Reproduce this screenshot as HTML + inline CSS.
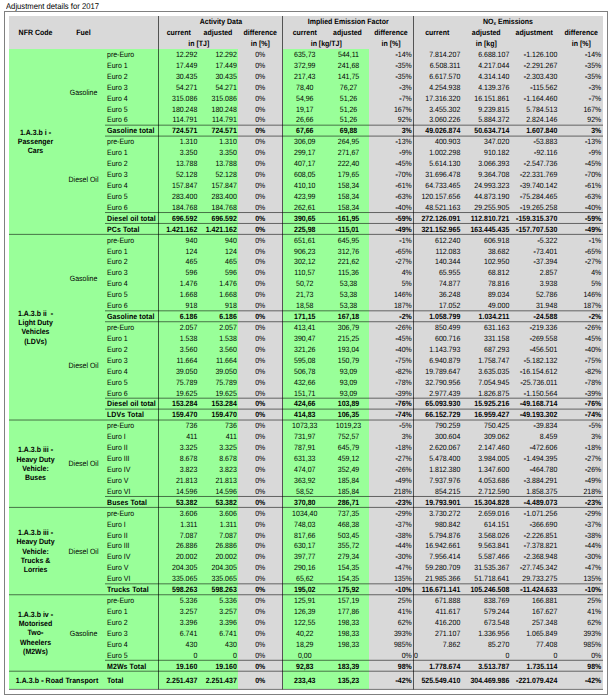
<!DOCTYPE html>
<html><head><meta charset="utf-8">
<style>
html,body{margin:0;padding:0;background:#fff;width:612px;height:700px;overflow:hidden;position:relative}
.r{position:absolute}
.ov{position:absolute;left:0;top:0}
.t{position:absolute;font-family:"Liberation Sans",sans-serif;font-size:7.7px;line-height:10px;height:10px;white-space:nowrap;color:#000;text-rendering:geometricPrecision;transform:scaleX(0.91)}
.b{font-weight:bold}
.m{-webkit-text-stroke:0.25px #000}
sub{font-size:5px;vertical-align:baseline;position:relative;top:0.8px}
.title{position:absolute;left:6px;top:0px;font-family:"Liberation Sans",sans-serif;font-size:8.3px;line-height:12px;color:#000;white-space:nowrap;text-rendering:geometricPrecision;transform:scaleX(0.925);transform-origin:0 0}
.frame{position:absolute;left:4px;top:11px;width:602px;height:682px;border:1px solid #808080}
</style></head><body>
<div class="title">Adjustment details for 2017</div>
<div class="frame"></div>
<div class="r" style="left:9.00px;top:16.00px;width:594.00px;height:32.50px;background:#d9d9d9"></div>
<div class="r" style="left:9.00px;top:48.50px;width:229.00px;height:640.90px;background:#99ff99"></div>
<div class="r" style="left:238.00px;top:48.50px;width:44.50px;height:640.90px;background:#d9d9d9"></div>
<div class="r" style="left:282.50px;top:48.50px;width:86.50px;height:640.90px;background:#99ff99"></div>
<div class="r" style="left:369.00px;top:48.50px;width:234.00px;height:640.90px;background:#d9d9d9"></div>
<div class="t" style="left:107.00px;width:53.50px;top:50px;text-align:left;transform-origin:0 0">pre-Euro</div>
<div class="t" style="left:158.50px;width:38.30px;top:50px;text-align:right;transform-origin:100% 0">12.292</div>
<div class="t" style="left:198.00px;width:38.80px;top:50px;text-align:right;transform-origin:100% 0">12.292</div>
<div class="t" style="left:238.00px;width:44.50px;top:50px;text-align:center;transform-origin:50% 0">0%</div>
<div class="t" style="left:282.50px;width:43.50px;top:50px;text-align:center;transform-origin:50% 0">635,73</div>
<div class="t" style="left:326.70px;width:43.00px;top:50px;text-align:center;transform-origin:50% 0">544,11</div>
<div class="t" style="left:369.00px;width:42.80px;top:50px;text-align:right;transform-origin:100% 0"><span class="m">-</span>14%</div>
<div class="t" style="left:413.00px;width:47.30px;top:50px;text-align:right;transform-origin:100% 0">7.814.207</div>
<div class="t" style="left:461.50px;width:47.30px;top:50px;text-align:right;transform-origin:100% 0">6.688.107</div>
<div class="t" style="left:510.00px;width:47.30px;top:50px;text-align:right;transform-origin:100% 0"><span class="m">-</span>1.126.100</div>
<div class="t" style="left:558.50px;width:42.30px;top:50px;text-align:right;transform-origin:100% 0"><span class="m">-</span>14%</div>
<div class="t" style="left:107.00px;width:53.50px;top:61px;text-align:left;transform-origin:0 0">Euro 1</div>
<div class="t" style="left:158.50px;width:38.30px;top:61px;text-align:right;transform-origin:100% 0">17.449</div>
<div class="t" style="left:198.00px;width:38.80px;top:61px;text-align:right;transform-origin:100% 0">17.449</div>
<div class="t" style="left:238.00px;width:44.50px;top:61px;text-align:center;transform-origin:50% 0">0%</div>
<div class="t" style="left:282.50px;width:43.50px;top:61px;text-align:center;transform-origin:50% 0">372,99</div>
<div class="t" style="left:326.70px;width:43.00px;top:61px;text-align:center;transform-origin:50% 0">241,68</div>
<div class="t" style="left:369.00px;width:42.80px;top:61px;text-align:right;transform-origin:100% 0"><span class="m">-</span>35%</div>
<div class="t" style="left:413.00px;width:47.30px;top:61px;text-align:right;transform-origin:100% 0">6.508.311</div>
<div class="t" style="left:461.50px;width:47.30px;top:61px;text-align:right;transform-origin:100% 0">4.217.044</div>
<div class="t" style="left:510.00px;width:47.30px;top:61px;text-align:right;transform-origin:100% 0"><span class="m">-</span>2.291.267</div>
<div class="t" style="left:558.50px;width:42.30px;top:61px;text-align:right;transform-origin:100% 0"><span class="m">-</span>35%</div>
<div class="t" style="left:107.00px;width:53.50px;top:72px;text-align:left;transform-origin:0 0">Euro 2</div>
<div class="t" style="left:158.50px;width:38.30px;top:72px;text-align:right;transform-origin:100% 0">30.435</div>
<div class="t" style="left:198.00px;width:38.80px;top:72px;text-align:right;transform-origin:100% 0">30.435</div>
<div class="t" style="left:238.00px;width:44.50px;top:72px;text-align:center;transform-origin:50% 0">0%</div>
<div class="t" style="left:282.50px;width:43.50px;top:72px;text-align:center;transform-origin:50% 0">217,43</div>
<div class="t" style="left:326.70px;width:43.00px;top:72px;text-align:center;transform-origin:50% 0">141,75</div>
<div class="t" style="left:369.00px;width:42.80px;top:72px;text-align:right;transform-origin:100% 0"><span class="m">-</span>35%</div>
<div class="t" style="left:413.00px;width:47.30px;top:72px;text-align:right;transform-origin:100% 0">6.617.570</div>
<div class="t" style="left:461.50px;width:47.30px;top:72px;text-align:right;transform-origin:100% 0">4.314.140</div>
<div class="t" style="left:510.00px;width:47.30px;top:72px;text-align:right;transform-origin:100% 0"><span class="m">-</span>2.303.430</div>
<div class="t" style="left:558.50px;width:42.30px;top:72px;text-align:right;transform-origin:100% 0"><span class="m">-</span>35%</div>
<div class="t" style="left:107.00px;width:53.50px;top:83px;text-align:left;transform-origin:0 0">Euro 3</div>
<div class="t" style="left:158.50px;width:38.30px;top:83px;text-align:right;transform-origin:100% 0">54.271</div>
<div class="t" style="left:198.00px;width:38.80px;top:83px;text-align:right;transform-origin:100% 0">54.271</div>
<div class="t" style="left:238.00px;width:44.50px;top:83px;text-align:center;transform-origin:50% 0">0%</div>
<div class="t" style="left:282.50px;width:43.50px;top:83px;text-align:center;transform-origin:50% 0">78,40</div>
<div class="t" style="left:326.70px;width:43.00px;top:83px;text-align:center;transform-origin:50% 0">76,27</div>
<div class="t" style="left:369.00px;width:42.80px;top:83px;text-align:right;transform-origin:100% 0"><span class="m">-</span>3%</div>
<div class="t" style="left:413.00px;width:47.30px;top:83px;text-align:right;transform-origin:100% 0">4.254.938</div>
<div class="t" style="left:461.50px;width:47.30px;top:83px;text-align:right;transform-origin:100% 0">4.139.376</div>
<div class="t" style="left:510.00px;width:47.30px;top:83px;text-align:right;transform-origin:100% 0"><span class="m">-</span>115.562</div>
<div class="t" style="left:558.50px;width:42.30px;top:83px;text-align:right;transform-origin:100% 0"><span class="m">-</span>3%</div>
<div class="t" style="left:107.00px;width:53.50px;top:94px;text-align:left;transform-origin:0 0">Euro 4</div>
<div class="t" style="left:158.50px;width:38.30px;top:94px;text-align:right;transform-origin:100% 0">315.086</div>
<div class="t" style="left:198.00px;width:38.80px;top:94px;text-align:right;transform-origin:100% 0">315.086</div>
<div class="t" style="left:238.00px;width:44.50px;top:94px;text-align:center;transform-origin:50% 0">0%</div>
<div class="t" style="left:282.50px;width:43.50px;top:94px;text-align:center;transform-origin:50% 0">54,96</div>
<div class="t" style="left:326.70px;width:43.00px;top:94px;text-align:center;transform-origin:50% 0">51,26</div>
<div class="t" style="left:369.00px;width:42.80px;top:94px;text-align:right;transform-origin:100% 0"><span class="m">-</span>7%</div>
<div class="t" style="left:413.00px;width:47.30px;top:94px;text-align:right;transform-origin:100% 0">17.316.320</div>
<div class="t" style="left:461.50px;width:47.30px;top:94px;text-align:right;transform-origin:100% 0">16.151.861</div>
<div class="t" style="left:510.00px;width:47.30px;top:94px;text-align:right;transform-origin:100% 0"><span class="m">-</span>1.164.460</div>
<div class="t" style="left:558.50px;width:42.30px;top:94px;text-align:right;transform-origin:100% 0"><span class="m">-</span>7%</div>
<div class="t" style="left:107.00px;width:53.50px;top:105px;text-align:left;transform-origin:0 0">Euro 5</div>
<div class="t" style="left:158.50px;width:38.30px;top:105px;text-align:right;transform-origin:100% 0">180.248</div>
<div class="t" style="left:198.00px;width:38.80px;top:105px;text-align:right;transform-origin:100% 0">180.248</div>
<div class="t" style="left:238.00px;width:44.50px;top:105px;text-align:center;transform-origin:50% 0">0%</div>
<div class="t" style="left:282.50px;width:43.50px;top:105px;text-align:center;transform-origin:50% 0">19,17</div>
<div class="t" style="left:326.70px;width:43.00px;top:105px;text-align:center;transform-origin:50% 0">51,26</div>
<div class="t" style="left:369.00px;width:42.80px;top:105px;text-align:right;transform-origin:100% 0">167%</div>
<div class="t" style="left:413.00px;width:47.30px;top:105px;text-align:right;transform-origin:100% 0">3.455.302</div>
<div class="t" style="left:461.50px;width:47.30px;top:105px;text-align:right;transform-origin:100% 0">9.239.815</div>
<div class="t" style="left:510.00px;width:47.30px;top:105px;text-align:right;transform-origin:100% 0">5.784.513</div>
<div class="t" style="left:558.50px;width:42.30px;top:105px;text-align:right;transform-origin:100% 0">167%</div>
<div class="t" style="left:107.00px;width:53.50px;top:115px;text-align:left;transform-origin:0 0">Euro 6</div>
<div class="t" style="left:158.50px;width:38.30px;top:115px;text-align:right;transform-origin:100% 0">114.791</div>
<div class="t" style="left:198.00px;width:38.80px;top:115px;text-align:right;transform-origin:100% 0">114.791</div>
<div class="t" style="left:238.00px;width:44.50px;top:115px;text-align:center;transform-origin:50% 0">0%</div>
<div class="t" style="left:282.50px;width:43.50px;top:115px;text-align:center;transform-origin:50% 0">26,66</div>
<div class="t" style="left:326.70px;width:43.00px;top:115px;text-align:center;transform-origin:50% 0">51,26</div>
<div class="t" style="left:369.00px;width:42.80px;top:115px;text-align:right;transform-origin:100% 0">92%</div>
<div class="t" style="left:413.00px;width:47.30px;top:115px;text-align:right;transform-origin:100% 0">3.060.226</div>
<div class="t" style="left:461.50px;width:47.30px;top:115px;text-align:right;transform-origin:100% 0">5.884.372</div>
<div class="t" style="left:510.00px;width:47.30px;top:115px;text-align:right;transform-origin:100% 0">2.824.146</div>
<div class="t" style="left:558.50px;width:42.30px;top:115px;text-align:right;transform-origin:100% 0">92%</div>
<div class="t b" style="left:107.00px;width:53.50px;top:126px;text-align:left;transform-origin:0 0;letter-spacing:0.1px">Gasoline total</div>
<div class="t b" style="left:158.50px;width:38.30px;top:126px;text-align:right;transform-origin:100% 0">724.571</div>
<div class="t b" style="left:198.00px;width:38.80px;top:126px;text-align:right;transform-origin:100% 0">724.571</div>
<div class="t b" style="left:238.00px;width:44.50px;top:126px;text-align:center;transform-origin:50% 0">0%</div>
<div class="t b" style="left:282.50px;width:43.50px;top:126px;text-align:center;transform-origin:50% 0">67,66</div>
<div class="t b" style="left:326.70px;width:43.00px;top:126px;text-align:center;transform-origin:50% 0">69,88</div>
<div class="t b" style="left:369.00px;width:42.80px;top:126px;text-align:right;transform-origin:100% 0">3%</div>
<div class="t b" style="left:413.00px;width:47.30px;top:126px;text-align:right;transform-origin:100% 0">49.026.874</div>
<div class="t b" style="left:461.50px;width:47.30px;top:126px;text-align:right;transform-origin:100% 0">50.634.714</div>
<div class="t b" style="left:510.00px;width:47.30px;top:126px;text-align:right;transform-origin:100% 0">1.607.840</div>
<div class="t b" style="left:558.50px;width:42.30px;top:126px;text-align:right;transform-origin:100% 0">3%</div>
<div class="t" style="left:107.00px;width:53.50px;top:137px;text-align:left;transform-origin:0 0">pre-Euro</div>
<div class="t" style="left:158.50px;width:38.30px;top:137px;text-align:right;transform-origin:100% 0">1.310</div>
<div class="t" style="left:198.00px;width:38.80px;top:137px;text-align:right;transform-origin:100% 0">1.310</div>
<div class="t" style="left:238.00px;width:44.50px;top:137px;text-align:center;transform-origin:50% 0">0%</div>
<div class="t" style="left:282.50px;width:43.50px;top:137px;text-align:center;transform-origin:50% 0">306,09</div>
<div class="t" style="left:326.70px;width:43.00px;top:137px;text-align:center;transform-origin:50% 0">264,95</div>
<div class="t" style="left:369.00px;width:42.80px;top:137px;text-align:right;transform-origin:100% 0"><span class="m">-</span>13%</div>
<div class="t" style="left:413.00px;width:47.30px;top:137px;text-align:right;transform-origin:100% 0">400.903</div>
<div class="t" style="left:461.50px;width:47.30px;top:137px;text-align:right;transform-origin:100% 0">347.020</div>
<div class="t" style="left:510.00px;width:47.30px;top:137px;text-align:right;transform-origin:100% 0"><span class="m">-</span>53.883</div>
<div class="t" style="left:558.50px;width:42.30px;top:137px;text-align:right;transform-origin:100% 0"><span class="m">-</span>13%</div>
<div class="t" style="left:107.00px;width:53.50px;top:148px;text-align:left;transform-origin:0 0">Euro 1</div>
<div class="t" style="left:158.50px;width:38.30px;top:148px;text-align:right;transform-origin:100% 0">3.350</div>
<div class="t" style="left:198.00px;width:38.80px;top:148px;text-align:right;transform-origin:100% 0">3.350</div>
<div class="t" style="left:238.00px;width:44.50px;top:148px;text-align:center;transform-origin:50% 0">0%</div>
<div class="t" style="left:282.50px;width:43.50px;top:148px;text-align:center;transform-origin:50% 0">299,17</div>
<div class="t" style="left:326.70px;width:43.00px;top:148px;text-align:center;transform-origin:50% 0">271,67</div>
<div class="t" style="left:369.00px;width:42.80px;top:148px;text-align:right;transform-origin:100% 0"><span class="m">-</span>9%</div>
<div class="t" style="left:413.00px;width:47.30px;top:148px;text-align:right;transform-origin:100% 0">1.002.298</div>
<div class="t" style="left:461.50px;width:47.30px;top:148px;text-align:right;transform-origin:100% 0">910.182</div>
<div class="t" style="left:510.00px;width:47.30px;top:148px;text-align:right;transform-origin:100% 0"><span class="m">-</span>92.116</div>
<div class="t" style="left:558.50px;width:42.30px;top:148px;text-align:right;transform-origin:100% 0"><span class="m">-</span>9%</div>
<div class="t" style="left:107.00px;width:53.50px;top:159px;text-align:left;transform-origin:0 0">Euro 2</div>
<div class="t" style="left:158.50px;width:38.30px;top:159px;text-align:right;transform-origin:100% 0">13.788</div>
<div class="t" style="left:198.00px;width:38.80px;top:159px;text-align:right;transform-origin:100% 0">13.788</div>
<div class="t" style="left:238.00px;width:44.50px;top:159px;text-align:center;transform-origin:50% 0">0%</div>
<div class="t" style="left:282.50px;width:43.50px;top:159px;text-align:center;transform-origin:50% 0">407,17</div>
<div class="t" style="left:326.70px;width:43.00px;top:159px;text-align:center;transform-origin:50% 0">222,40</div>
<div class="t" style="left:369.00px;width:42.80px;top:159px;text-align:right;transform-origin:100% 0"><span class="m">-</span>45%</div>
<div class="t" style="left:413.00px;width:47.30px;top:159px;text-align:right;transform-origin:100% 0">5.614.130</div>
<div class="t" style="left:461.50px;width:47.30px;top:159px;text-align:right;transform-origin:100% 0">3.066.393</div>
<div class="t" style="left:510.00px;width:47.30px;top:159px;text-align:right;transform-origin:100% 0"><span class="m">-</span>2.547.736</div>
<div class="t" style="left:558.50px;width:42.30px;top:159px;text-align:right;transform-origin:100% 0"><span class="m">-</span>45%</div>
<div class="t" style="left:107.00px;width:53.50px;top:170px;text-align:left;transform-origin:0 0">Euro 3</div>
<div class="t" style="left:158.50px;width:38.30px;top:170px;text-align:right;transform-origin:100% 0">52.128</div>
<div class="t" style="left:198.00px;width:38.80px;top:170px;text-align:right;transform-origin:100% 0">52.128</div>
<div class="t" style="left:238.00px;width:44.50px;top:170px;text-align:center;transform-origin:50% 0">0%</div>
<div class="t" style="left:282.50px;width:43.50px;top:170px;text-align:center;transform-origin:50% 0">608,05</div>
<div class="t" style="left:326.70px;width:43.00px;top:170px;text-align:center;transform-origin:50% 0">179,65</div>
<div class="t" style="left:369.00px;width:42.80px;top:170px;text-align:right;transform-origin:100% 0"><span class="m">-</span>70%</div>
<div class="t" style="left:413.00px;width:47.30px;top:170px;text-align:right;transform-origin:100% 0">31.696.478</div>
<div class="t" style="left:461.50px;width:47.30px;top:170px;text-align:right;transform-origin:100% 0">9.364.708</div>
<div class="t" style="left:510.00px;width:47.30px;top:170px;text-align:right;transform-origin:100% 0"><span class="m">-</span>22.331.769</div>
<div class="t" style="left:558.50px;width:42.30px;top:170px;text-align:right;transform-origin:100% 0"><span class="m">-</span>70%</div>
<div class="t" style="left:107.00px;width:53.50px;top:181px;text-align:left;transform-origin:0 0">Euro 4</div>
<div class="t" style="left:158.50px;width:38.30px;top:181px;text-align:right;transform-origin:100% 0">157.847</div>
<div class="t" style="left:198.00px;width:38.80px;top:181px;text-align:right;transform-origin:100% 0">157.847</div>
<div class="t" style="left:238.00px;width:44.50px;top:181px;text-align:center;transform-origin:50% 0">0%</div>
<div class="t" style="left:282.50px;width:43.50px;top:181px;text-align:center;transform-origin:50% 0">410,10</div>
<div class="t" style="left:326.70px;width:43.00px;top:181px;text-align:center;transform-origin:50% 0">158,34</div>
<div class="t" style="left:369.00px;width:42.80px;top:181px;text-align:right;transform-origin:100% 0"><span class="m">-</span>61%</div>
<div class="t" style="left:413.00px;width:47.30px;top:181px;text-align:right;transform-origin:100% 0">64.733.465</div>
<div class="t" style="left:461.50px;width:47.30px;top:181px;text-align:right;transform-origin:100% 0">24.993.323</div>
<div class="t" style="left:510.00px;width:47.30px;top:181px;text-align:right;transform-origin:100% 0"><span class="m">-</span>39.740.142</div>
<div class="t" style="left:558.50px;width:42.30px;top:181px;text-align:right;transform-origin:100% 0"><span class="m">-</span>61%</div>
<div class="t" style="left:107.00px;width:53.50px;top:192px;text-align:left;transform-origin:0 0">Euro 5</div>
<div class="t" style="left:158.50px;width:38.30px;top:192px;text-align:right;transform-origin:100% 0">283.400</div>
<div class="t" style="left:198.00px;width:38.80px;top:192px;text-align:right;transform-origin:100% 0">283.400</div>
<div class="t" style="left:238.00px;width:44.50px;top:192px;text-align:center;transform-origin:50% 0">0%</div>
<div class="t" style="left:282.50px;width:43.50px;top:192px;text-align:center;transform-origin:50% 0">423,99</div>
<div class="t" style="left:326.70px;width:43.00px;top:192px;text-align:center;transform-origin:50% 0">158,34</div>
<div class="t" style="left:369.00px;width:42.80px;top:192px;text-align:right;transform-origin:100% 0"><span class="m">-</span>63%</div>
<div class="t" style="left:413.00px;width:47.30px;top:192px;text-align:right;transform-origin:100% 0">120.157.656</div>
<div class="t" style="left:461.50px;width:47.30px;top:192px;text-align:right;transform-origin:100% 0">44.873.190</div>
<div class="t" style="left:510.00px;width:47.30px;top:192px;text-align:right;transform-origin:100% 0"><span class="m">-</span>75.284.465</div>
<div class="t" style="left:558.50px;width:42.30px;top:192px;text-align:right;transform-origin:100% 0"><span class="m">-</span>63%</div>
<div class="t" style="left:107.00px;width:53.50px;top:203px;text-align:left;transform-origin:0 0">Euro 6</div>
<div class="t" style="left:158.50px;width:38.30px;top:203px;text-align:right;transform-origin:100% 0">184.768</div>
<div class="t" style="left:198.00px;width:38.80px;top:203px;text-align:right;transform-origin:100% 0">184.768</div>
<div class="t" style="left:238.00px;width:44.50px;top:203px;text-align:center;transform-origin:50% 0">0%</div>
<div class="t" style="left:282.50px;width:43.50px;top:203px;text-align:center;transform-origin:50% 0">262,61</div>
<div class="t" style="left:326.70px;width:43.00px;top:203px;text-align:center;transform-origin:50% 0">158,34</div>
<div class="t" style="left:369.00px;width:42.80px;top:203px;text-align:right;transform-origin:100% 0"><span class="m">-</span>40%</div>
<div class="t" style="left:413.00px;width:47.30px;top:203px;text-align:right;transform-origin:100% 0">48.521.163</div>
<div class="t" style="left:461.50px;width:47.30px;top:203px;text-align:right;transform-origin:100% 0">29.255.905</div>
<div class="t" style="left:510.00px;width:47.30px;top:203px;text-align:right;transform-origin:100% 0"><span class="m">-</span>19.265.258</div>
<div class="t" style="left:558.50px;width:42.30px;top:203px;text-align:right;transform-origin:100% 0"><span class="m">-</span>40%</div>
<div class="t b" style="left:107.00px;width:53.50px;top:214px;text-align:left;transform-origin:0 0;letter-spacing:0.1px">Diesel oil total</div>
<div class="t b" style="left:158.50px;width:38.30px;top:214px;text-align:right;transform-origin:100% 0">696.592</div>
<div class="t b" style="left:198.00px;width:38.80px;top:214px;text-align:right;transform-origin:100% 0">696.592</div>
<div class="t b" style="left:238.00px;width:44.50px;top:214px;text-align:center;transform-origin:50% 0">0%</div>
<div class="t b" style="left:282.50px;width:43.50px;top:214px;text-align:center;transform-origin:50% 0">390,65</div>
<div class="t b" style="left:326.70px;width:43.00px;top:214px;text-align:center;transform-origin:50% 0">161,95</div>
<div class="t b" style="left:369.00px;width:42.80px;top:214px;text-align:right;transform-origin:100% 0"><span class="m">-</span>59%</div>
<div class="t b" style="left:413.00px;width:47.30px;top:214px;text-align:right;transform-origin:100% 0">272.126.091</div>
<div class="t b" style="left:461.50px;width:47.30px;top:214px;text-align:right;transform-origin:100% 0">112.810.721</div>
<div class="t b" style="left:510.00px;width:47.30px;top:214px;text-align:right;transform-origin:100% 0"><span class="m">-</span>159.315.370</div>
<div class="t b" style="left:558.50px;width:42.30px;top:214px;text-align:right;transform-origin:100% 0"><span class="m">-</span>59%</div>
<div class="t b" style="left:107.00px;width:53.50px;top:225px;text-align:left;transform-origin:0 0;letter-spacing:0.1px">PCs Total</div>
<div class="t b" style="left:158.50px;width:38.30px;top:225px;text-align:right;transform-origin:100% 0">1.421.162</div>
<div class="t b" style="left:198.00px;width:38.80px;top:225px;text-align:right;transform-origin:100% 0">1.421.162</div>
<div class="t b" style="left:238.00px;width:44.50px;top:225px;text-align:center;transform-origin:50% 0">0%</div>
<div class="t b" style="left:282.50px;width:43.50px;top:225px;text-align:center;transform-origin:50% 0">225,98</div>
<div class="t b" style="left:326.70px;width:43.00px;top:225px;text-align:center;transform-origin:50% 0">115,01</div>
<div class="t b" style="left:369.00px;width:42.80px;top:225px;text-align:right;transform-origin:100% 0"><span class="m">-</span>49%</div>
<div class="t b" style="left:413.00px;width:47.30px;top:225px;text-align:right;transform-origin:100% 0">321.152.965</div>
<div class="t b" style="left:461.50px;width:47.30px;top:225px;text-align:right;transform-origin:100% 0">163.445.435</div>
<div class="t b" style="left:510.00px;width:47.30px;top:225px;text-align:right;transform-origin:100% 0"><span class="m">-</span>157.707.530</div>
<div class="t b" style="left:558.50px;width:42.30px;top:225px;text-align:right;transform-origin:100% 0"><span class="m">-</span>49%</div>
<div class="t" style="left:107.00px;width:53.50px;top:236px;text-align:left;transform-origin:0 0">pre-Euro</div>
<div class="t" style="left:158.50px;width:38.30px;top:236px;text-align:right;transform-origin:100% 0">940</div>
<div class="t" style="left:198.00px;width:38.80px;top:236px;text-align:right;transform-origin:100% 0">940</div>
<div class="t" style="left:238.00px;width:44.50px;top:236px;text-align:center;transform-origin:50% 0">0%</div>
<div class="t" style="left:282.50px;width:43.50px;top:236px;text-align:center;transform-origin:50% 0">651,61</div>
<div class="t" style="left:326.70px;width:43.00px;top:236px;text-align:center;transform-origin:50% 0">645,95</div>
<div class="t" style="left:369.00px;width:42.80px;top:236px;text-align:right;transform-origin:100% 0"><span class="m">-</span>1%</div>
<div class="t" style="left:413.00px;width:47.30px;top:236px;text-align:right;transform-origin:100% 0">612.240</div>
<div class="t" style="left:461.50px;width:47.30px;top:236px;text-align:right;transform-origin:100% 0">606.918</div>
<div class="t" style="left:510.00px;width:47.30px;top:236px;text-align:right;transform-origin:100% 0"><span class="m">-</span>5.322</div>
<div class="t" style="left:558.50px;width:42.30px;top:236px;text-align:right;transform-origin:100% 0"><span class="m">-</span>1%</div>
<div class="t" style="left:107.00px;width:53.50px;top:247px;text-align:left;transform-origin:0 0">Euro 1</div>
<div class="t" style="left:158.50px;width:38.30px;top:247px;text-align:right;transform-origin:100% 0">124</div>
<div class="t" style="left:198.00px;width:38.80px;top:247px;text-align:right;transform-origin:100% 0">124</div>
<div class="t" style="left:238.00px;width:44.50px;top:247px;text-align:center;transform-origin:50% 0">0%</div>
<div class="t" style="left:282.50px;width:43.50px;top:247px;text-align:center;transform-origin:50% 0">906,23</div>
<div class="t" style="left:326.70px;width:43.00px;top:247px;text-align:center;transform-origin:50% 0">312,76</div>
<div class="t" style="left:369.00px;width:42.80px;top:247px;text-align:right;transform-origin:100% 0"><span class="m">-</span>65%</div>
<div class="t" style="left:413.00px;width:47.30px;top:247px;text-align:right;transform-origin:100% 0">112.083</div>
<div class="t" style="left:461.50px;width:47.30px;top:247px;text-align:right;transform-origin:100% 0">38.682</div>
<div class="t" style="left:510.00px;width:47.30px;top:247px;text-align:right;transform-origin:100% 0"><span class="m">-</span>73.401</div>
<div class="t" style="left:558.50px;width:42.30px;top:247px;text-align:right;transform-origin:100% 0"><span class="m">-</span>65%</div>
<div class="t" style="left:107.00px;width:53.50px;top:257px;text-align:left;transform-origin:0 0">Euro 2</div>
<div class="t" style="left:158.50px;width:38.30px;top:257px;text-align:right;transform-origin:100% 0">465</div>
<div class="t" style="left:198.00px;width:38.80px;top:257px;text-align:right;transform-origin:100% 0">465</div>
<div class="t" style="left:238.00px;width:44.50px;top:257px;text-align:center;transform-origin:50% 0">0%</div>
<div class="t" style="left:282.50px;width:43.50px;top:257px;text-align:center;transform-origin:50% 0">302,12</div>
<div class="t" style="left:326.70px;width:43.00px;top:257px;text-align:center;transform-origin:50% 0">221,62</div>
<div class="t" style="left:369.00px;width:42.80px;top:257px;text-align:right;transform-origin:100% 0"><span class="m">-</span>27%</div>
<div class="t" style="left:413.00px;width:47.30px;top:257px;text-align:right;transform-origin:100% 0">140.344</div>
<div class="t" style="left:461.50px;width:47.30px;top:257px;text-align:right;transform-origin:100% 0">102.950</div>
<div class="t" style="left:510.00px;width:47.30px;top:257px;text-align:right;transform-origin:100% 0"><span class="m">-</span>37.394</div>
<div class="t" style="left:558.50px;width:42.30px;top:257px;text-align:right;transform-origin:100% 0"><span class="m">-</span>27%</div>
<div class="t" style="left:107.00px;width:53.50px;top:268px;text-align:left;transform-origin:0 0">Euro 3</div>
<div class="t" style="left:158.50px;width:38.30px;top:268px;text-align:right;transform-origin:100% 0">596</div>
<div class="t" style="left:198.00px;width:38.80px;top:268px;text-align:right;transform-origin:100% 0">596</div>
<div class="t" style="left:238.00px;width:44.50px;top:268px;text-align:center;transform-origin:50% 0">0%</div>
<div class="t" style="left:282.50px;width:43.50px;top:268px;text-align:center;transform-origin:50% 0">110,57</div>
<div class="t" style="left:326.70px;width:43.00px;top:268px;text-align:center;transform-origin:50% 0">115,36</div>
<div class="t" style="left:369.00px;width:42.80px;top:268px;text-align:right;transform-origin:100% 0">4%</div>
<div class="t" style="left:413.00px;width:47.30px;top:268px;text-align:right;transform-origin:100% 0">65.955</div>
<div class="t" style="left:461.50px;width:47.30px;top:268px;text-align:right;transform-origin:100% 0">68.812</div>
<div class="t" style="left:510.00px;width:47.30px;top:268px;text-align:right;transform-origin:100% 0">2.857</div>
<div class="t" style="left:558.50px;width:42.30px;top:268px;text-align:right;transform-origin:100% 0">4%</div>
<div class="t" style="left:107.00px;width:53.50px;top:279px;text-align:left;transform-origin:0 0">Euro 4</div>
<div class="t" style="left:158.50px;width:38.30px;top:279px;text-align:right;transform-origin:100% 0">1.476</div>
<div class="t" style="left:198.00px;width:38.80px;top:279px;text-align:right;transform-origin:100% 0">1.476</div>
<div class="t" style="left:238.00px;width:44.50px;top:279px;text-align:center;transform-origin:50% 0">0%</div>
<div class="t" style="left:282.50px;width:43.50px;top:279px;text-align:center;transform-origin:50% 0">50,72</div>
<div class="t" style="left:326.70px;width:43.00px;top:279px;text-align:center;transform-origin:50% 0">53,38</div>
<div class="t" style="left:369.00px;width:42.80px;top:279px;text-align:right;transform-origin:100% 0">5%</div>
<div class="t" style="left:413.00px;width:47.30px;top:279px;text-align:right;transform-origin:100% 0">74.877</div>
<div class="t" style="left:461.50px;width:47.30px;top:279px;text-align:right;transform-origin:100% 0">78.816</div>
<div class="t" style="left:510.00px;width:47.30px;top:279px;text-align:right;transform-origin:100% 0">3.938</div>
<div class="t" style="left:558.50px;width:42.30px;top:279px;text-align:right;transform-origin:100% 0">5%</div>
<div class="t" style="left:107.00px;width:53.50px;top:290px;text-align:left;transform-origin:0 0">Euro 5</div>
<div class="t" style="left:158.50px;width:38.30px;top:290px;text-align:right;transform-origin:100% 0">1.668</div>
<div class="t" style="left:198.00px;width:38.80px;top:290px;text-align:right;transform-origin:100% 0">1.668</div>
<div class="t" style="left:238.00px;width:44.50px;top:290px;text-align:center;transform-origin:50% 0">0%</div>
<div class="t" style="left:282.50px;width:43.50px;top:290px;text-align:center;transform-origin:50% 0">21,73</div>
<div class="t" style="left:326.70px;width:43.00px;top:290px;text-align:center;transform-origin:50% 0">53,38</div>
<div class="t" style="left:369.00px;width:42.80px;top:290px;text-align:right;transform-origin:100% 0">146%</div>
<div class="t" style="left:413.00px;width:47.30px;top:290px;text-align:right;transform-origin:100% 0">36.248</div>
<div class="t" style="left:461.50px;width:47.30px;top:290px;text-align:right;transform-origin:100% 0">89.034</div>
<div class="t" style="left:510.00px;width:47.30px;top:290px;text-align:right;transform-origin:100% 0">52.786</div>
<div class="t" style="left:558.50px;width:42.30px;top:290px;text-align:right;transform-origin:100% 0">146%</div>
<div class="t" style="left:107.00px;width:53.50px;top:301px;text-align:left;transform-origin:0 0">Euro 6</div>
<div class="t" style="left:158.50px;width:38.30px;top:301px;text-align:right;transform-origin:100% 0">918</div>
<div class="t" style="left:198.00px;width:38.80px;top:301px;text-align:right;transform-origin:100% 0">918</div>
<div class="t" style="left:238.00px;width:44.50px;top:301px;text-align:center;transform-origin:50% 0">0%</div>
<div class="t" style="left:282.50px;width:43.50px;top:301px;text-align:center;transform-origin:50% 0">18,58</div>
<div class="t" style="left:326.70px;width:43.00px;top:301px;text-align:center;transform-origin:50% 0">53,38</div>
<div class="t" style="left:369.00px;width:42.80px;top:301px;text-align:right;transform-origin:100% 0">187%</div>
<div class="t" style="left:413.00px;width:47.30px;top:301px;text-align:right;transform-origin:100% 0">17.052</div>
<div class="t" style="left:461.50px;width:47.30px;top:301px;text-align:right;transform-origin:100% 0">49.000</div>
<div class="t" style="left:510.00px;width:47.30px;top:301px;text-align:right;transform-origin:100% 0">31.948</div>
<div class="t" style="left:558.50px;width:42.30px;top:301px;text-align:right;transform-origin:100% 0">187%</div>
<div class="t b" style="left:107.00px;width:53.50px;top:312px;text-align:left;transform-origin:0 0;letter-spacing:0.1px">Gasoline total</div>
<div class="t b" style="left:158.50px;width:38.30px;top:312px;text-align:right;transform-origin:100% 0">6.186</div>
<div class="t b" style="left:198.00px;width:38.80px;top:312px;text-align:right;transform-origin:100% 0">6.186</div>
<div class="t b" style="left:238.00px;width:44.50px;top:312px;text-align:center;transform-origin:50% 0">0%</div>
<div class="t b" style="left:282.50px;width:43.50px;top:312px;text-align:center;transform-origin:50% 0">171,15</div>
<div class="t b" style="left:326.70px;width:43.00px;top:312px;text-align:center;transform-origin:50% 0">167,18</div>
<div class="t b" style="left:369.00px;width:42.80px;top:312px;text-align:right;transform-origin:100% 0"><span class="m">-</span>2%</div>
<div class="t b" style="left:413.00px;width:47.30px;top:312px;text-align:right;transform-origin:100% 0">1.058.799</div>
<div class="t b" style="left:461.50px;width:47.30px;top:312px;text-align:right;transform-origin:100% 0">1.034.211</div>
<div class="t b" style="left:510.00px;width:47.30px;top:312px;text-align:right;transform-origin:100% 0"><span class="m">-</span>24.588</div>
<div class="t b" style="left:558.50px;width:42.30px;top:312px;text-align:right;transform-origin:100% 0"><span class="m">-</span>2%</div>
<div class="t" style="left:107.00px;width:53.50px;top:323px;text-align:left;transform-origin:0 0">pre-Euro</div>
<div class="t" style="left:158.50px;width:38.30px;top:323px;text-align:right;transform-origin:100% 0">2.057</div>
<div class="t" style="left:198.00px;width:38.80px;top:323px;text-align:right;transform-origin:100% 0">2.057</div>
<div class="t" style="left:238.00px;width:44.50px;top:323px;text-align:center;transform-origin:50% 0">0%</div>
<div class="t" style="left:282.50px;width:43.50px;top:323px;text-align:center;transform-origin:50% 0">413,41</div>
<div class="t" style="left:326.70px;width:43.00px;top:323px;text-align:center;transform-origin:50% 0">306,79</div>
<div class="t" style="left:369.00px;width:42.80px;top:323px;text-align:right;transform-origin:100% 0"><span class="m">-</span>26%</div>
<div class="t" style="left:413.00px;width:47.30px;top:323px;text-align:right;transform-origin:100% 0">850.499</div>
<div class="t" style="left:461.50px;width:47.30px;top:323px;text-align:right;transform-origin:100% 0">631.163</div>
<div class="t" style="left:510.00px;width:47.30px;top:323px;text-align:right;transform-origin:100% 0"><span class="m">-</span>219.336</div>
<div class="t" style="left:558.50px;width:42.30px;top:323px;text-align:right;transform-origin:100% 0"><span class="m">-</span>26%</div>
<div class="t" style="left:107.00px;width:53.50px;top:334px;text-align:left;transform-origin:0 0">Euro 1</div>
<div class="t" style="left:158.50px;width:38.30px;top:334px;text-align:right;transform-origin:100% 0">1.538</div>
<div class="t" style="left:198.00px;width:38.80px;top:334px;text-align:right;transform-origin:100% 0">1.538</div>
<div class="t" style="left:238.00px;width:44.50px;top:334px;text-align:center;transform-origin:50% 0">0%</div>
<div class="t" style="left:282.50px;width:43.50px;top:334px;text-align:center;transform-origin:50% 0">390,47</div>
<div class="t" style="left:326.70px;width:43.00px;top:334px;text-align:center;transform-origin:50% 0">215,25</div>
<div class="t" style="left:369.00px;width:42.80px;top:334px;text-align:right;transform-origin:100% 0"><span class="m">-</span>45%</div>
<div class="t" style="left:413.00px;width:47.30px;top:334px;text-align:right;transform-origin:100% 0">600.716</div>
<div class="t" style="left:461.50px;width:47.30px;top:334px;text-align:right;transform-origin:100% 0">331.158</div>
<div class="t" style="left:510.00px;width:47.30px;top:334px;text-align:right;transform-origin:100% 0"><span class="m">-</span>269.558</div>
<div class="t" style="left:558.50px;width:42.30px;top:334px;text-align:right;transform-origin:100% 0"><span class="m">-</span>45%</div>
<div class="t" style="left:107.00px;width:53.50px;top:345px;text-align:left;transform-origin:0 0">Euro 2</div>
<div class="t" style="left:158.50px;width:38.30px;top:345px;text-align:right;transform-origin:100% 0">3.560</div>
<div class="t" style="left:198.00px;width:38.80px;top:345px;text-align:right;transform-origin:100% 0">3.560</div>
<div class="t" style="left:238.00px;width:44.50px;top:345px;text-align:center;transform-origin:50% 0">0%</div>
<div class="t" style="left:282.50px;width:43.50px;top:345px;text-align:center;transform-origin:50% 0">321,26</div>
<div class="t" style="left:326.70px;width:43.00px;top:345px;text-align:center;transform-origin:50% 0">193,04</div>
<div class="t" style="left:369.00px;width:42.80px;top:345px;text-align:right;transform-origin:100% 0"><span class="m">-</span>40%</div>
<div class="t" style="left:413.00px;width:47.30px;top:345px;text-align:right;transform-origin:100% 0">1.143.793</div>
<div class="t" style="left:461.50px;width:47.30px;top:345px;text-align:right;transform-origin:100% 0">687.293</div>
<div class="t" style="left:510.00px;width:47.30px;top:345px;text-align:right;transform-origin:100% 0"><span class="m">-</span>456.501</div>
<div class="t" style="left:558.50px;width:42.30px;top:345px;text-align:right;transform-origin:100% 0"><span class="m">-</span>40%</div>
<div class="t" style="left:107.00px;width:53.50px;top:356px;text-align:left;transform-origin:0 0">Euro 3</div>
<div class="t" style="left:158.50px;width:38.30px;top:356px;text-align:right;transform-origin:100% 0">11.664</div>
<div class="t" style="left:198.00px;width:38.80px;top:356px;text-align:right;transform-origin:100% 0">11.664</div>
<div class="t" style="left:238.00px;width:44.50px;top:356px;text-align:center;transform-origin:50% 0">0%</div>
<div class="t" style="left:282.50px;width:43.50px;top:356px;text-align:center;transform-origin:50% 0">595,08</div>
<div class="t" style="left:326.70px;width:43.00px;top:356px;text-align:center;transform-origin:50% 0">150,79</div>
<div class="t" style="left:369.00px;width:42.80px;top:356px;text-align:right;transform-origin:100% 0"><span class="m">-</span>75%</div>
<div class="t" style="left:413.00px;width:47.30px;top:356px;text-align:right;transform-origin:100% 0">6.940.879</div>
<div class="t" style="left:461.50px;width:47.30px;top:356px;text-align:right;transform-origin:100% 0">1.758.747</div>
<div class="t" style="left:510.00px;width:47.30px;top:356px;text-align:right;transform-origin:100% 0"><span class="m">-</span>5.182.132</div>
<div class="t" style="left:558.50px;width:42.30px;top:356px;text-align:right;transform-origin:100% 0"><span class="m">-</span>75%</div>
<div class="t" style="left:107.00px;width:53.50px;top:367px;text-align:left;transform-origin:0 0">Euro 4</div>
<div class="t" style="left:158.50px;width:38.30px;top:367px;text-align:right;transform-origin:100% 0">39.050</div>
<div class="t" style="left:198.00px;width:38.80px;top:367px;text-align:right;transform-origin:100% 0">39.050</div>
<div class="t" style="left:238.00px;width:44.50px;top:367px;text-align:center;transform-origin:50% 0">0%</div>
<div class="t" style="left:282.50px;width:43.50px;top:367px;text-align:center;transform-origin:50% 0">506,78</div>
<div class="t" style="left:326.70px;width:43.00px;top:367px;text-align:center;transform-origin:50% 0">93,09</div>
<div class="t" style="left:369.00px;width:42.80px;top:367px;text-align:right;transform-origin:100% 0"><span class="m">-</span>82%</div>
<div class="t" style="left:413.00px;width:47.30px;top:367px;text-align:right;transform-origin:100% 0">19.789.647</div>
<div class="t" style="left:461.50px;width:47.30px;top:367px;text-align:right;transform-origin:100% 0">3.635.035</div>
<div class="t" style="left:510.00px;width:47.30px;top:367px;text-align:right;transform-origin:100% 0"><span class="m">-</span>16.154.612</div>
<div class="t" style="left:558.50px;width:42.30px;top:367px;text-align:right;transform-origin:100% 0"><span class="m">-</span>82%</div>
<div class="t" style="left:107.00px;width:53.50px;top:378px;text-align:left;transform-origin:0 0">Euro 5</div>
<div class="t" style="left:158.50px;width:38.30px;top:378px;text-align:right;transform-origin:100% 0">75.789</div>
<div class="t" style="left:198.00px;width:38.80px;top:378px;text-align:right;transform-origin:100% 0">75.789</div>
<div class="t" style="left:238.00px;width:44.50px;top:378px;text-align:center;transform-origin:50% 0">0%</div>
<div class="t" style="left:282.50px;width:43.50px;top:378px;text-align:center;transform-origin:50% 0">432,66</div>
<div class="t" style="left:326.70px;width:43.00px;top:378px;text-align:center;transform-origin:50% 0">93,09</div>
<div class="t" style="left:369.00px;width:42.80px;top:378px;text-align:right;transform-origin:100% 0"><span class="m">-</span>78%</div>
<div class="t" style="left:413.00px;width:47.30px;top:378px;text-align:right;transform-origin:100% 0">32.790.956</div>
<div class="t" style="left:461.50px;width:47.30px;top:378px;text-align:right;transform-origin:100% 0">7.054.945</div>
<div class="t" style="left:510.00px;width:47.30px;top:378px;text-align:right;transform-origin:100% 0"><span class="m">-</span>25.736.011</div>
<div class="t" style="left:558.50px;width:42.30px;top:378px;text-align:right;transform-origin:100% 0"><span class="m">-</span>78%</div>
<div class="t" style="left:107.00px;width:53.50px;top:389px;text-align:left;transform-origin:0 0">Euro 6</div>
<div class="t" style="left:158.50px;width:38.30px;top:389px;text-align:right;transform-origin:100% 0">19.625</div>
<div class="t" style="left:198.00px;width:38.80px;top:389px;text-align:right;transform-origin:100% 0">19.625</div>
<div class="t" style="left:238.00px;width:44.50px;top:389px;text-align:center;transform-origin:50% 0">0%</div>
<div class="t" style="left:282.50px;width:43.50px;top:389px;text-align:center;transform-origin:50% 0">151,71</div>
<div class="t" style="left:326.70px;width:43.00px;top:389px;text-align:center;transform-origin:50% 0">93,09</div>
<div class="t" style="left:369.00px;width:42.80px;top:389px;text-align:right;transform-origin:100% 0"><span class="m">-</span>39%</div>
<div class="t" style="left:413.00px;width:47.30px;top:389px;text-align:right;transform-origin:100% 0">2.977.439</div>
<div class="t" style="left:461.50px;width:47.30px;top:389px;text-align:right;transform-origin:100% 0">1.826.875</div>
<div class="t" style="left:510.00px;width:47.30px;top:389px;text-align:right;transform-origin:100% 0"><span class="m">-</span>1.150.564</div>
<div class="t" style="left:558.50px;width:42.30px;top:389px;text-align:right;transform-origin:100% 0"><span class="m">-</span>39%</div>
<div class="t b" style="left:107.00px;width:53.50px;top:399px;text-align:left;transform-origin:0 0;letter-spacing:0.1px">Diesel oil total</div>
<div class="t b" style="left:158.50px;width:38.30px;top:399px;text-align:right;transform-origin:100% 0">153.284</div>
<div class="t b" style="left:198.00px;width:38.80px;top:399px;text-align:right;transform-origin:100% 0">153.284</div>
<div class="t b" style="left:238.00px;width:44.50px;top:399px;text-align:center;transform-origin:50% 0">0%</div>
<div class="t b" style="left:282.50px;width:43.50px;top:399px;text-align:center;transform-origin:50% 0">424,66</div>
<div class="t b" style="left:326.70px;width:43.00px;top:399px;text-align:center;transform-origin:50% 0">103,89</div>
<div class="t b" style="left:369.00px;width:42.80px;top:399px;text-align:right;transform-origin:100% 0"><span class="m">-</span>76%</div>
<div class="t b" style="left:413.00px;width:47.30px;top:399px;text-align:right;transform-origin:100% 0">65.093.930</div>
<div class="t b" style="left:461.50px;width:47.30px;top:399px;text-align:right;transform-origin:100% 0">15.925.216</div>
<div class="t b" style="left:510.00px;width:47.30px;top:399px;text-align:right;transform-origin:100% 0"><span class="m">-</span>49.168.714</div>
<div class="t b" style="left:558.50px;width:42.30px;top:399px;text-align:right;transform-origin:100% 0"><span class="m">-</span>76%</div>
<div class="t b" style="left:107.00px;width:53.50px;top:410px;text-align:left;transform-origin:0 0;letter-spacing:0.1px">LDVs Total</div>
<div class="t b" style="left:158.50px;width:38.30px;top:410px;text-align:right;transform-origin:100% 0">159.470</div>
<div class="t b" style="left:198.00px;width:38.80px;top:410px;text-align:right;transform-origin:100% 0">159.470</div>
<div class="t b" style="left:238.00px;width:44.50px;top:410px;text-align:center;transform-origin:50% 0">0%</div>
<div class="t b" style="left:282.50px;width:43.50px;top:410px;text-align:center;transform-origin:50% 0">414,83</div>
<div class="t b" style="left:326.70px;width:43.00px;top:410px;text-align:center;transform-origin:50% 0">106,35</div>
<div class="t b" style="left:369.00px;width:42.80px;top:410px;text-align:right;transform-origin:100% 0"><span class="m">-</span>74%</div>
<div class="t b" style="left:413.00px;width:47.30px;top:410px;text-align:right;transform-origin:100% 0">66.152.729</div>
<div class="t b" style="left:461.50px;width:47.30px;top:410px;text-align:right;transform-origin:100% 0">16.959.427</div>
<div class="t b" style="left:510.00px;width:47.30px;top:410px;text-align:right;transform-origin:100% 0"><span class="m">-</span>49.193.302</div>
<div class="t b" style="left:558.50px;width:42.30px;top:410px;text-align:right;transform-origin:100% 0"><span class="m">-</span>74%</div>
<div class="t" style="left:107.00px;width:53.50px;top:421px;text-align:left;transform-origin:0 0">pre-Euro</div>
<div class="t" style="left:158.50px;width:38.30px;top:421px;text-align:right;transform-origin:100% 0">736</div>
<div class="t" style="left:198.00px;width:38.80px;top:421px;text-align:right;transform-origin:100% 0">736</div>
<div class="t" style="left:238.00px;width:44.50px;top:421px;text-align:center;transform-origin:50% 0">0%</div>
<div class="t" style="left:282.50px;width:43.50px;top:421px;text-align:center;transform-origin:50% 0">1073,33</div>
<div class="t" style="left:326.70px;width:43.00px;top:421px;text-align:center;transform-origin:50% 0">1019,23</div>
<div class="t" style="left:369.00px;width:42.80px;top:421px;text-align:right;transform-origin:100% 0"><span class="m">-</span>5%</div>
<div class="t" style="left:413.00px;width:47.30px;top:421px;text-align:right;transform-origin:100% 0">790.259</div>
<div class="t" style="left:461.50px;width:47.30px;top:421px;text-align:right;transform-origin:100% 0">750.425</div>
<div class="t" style="left:510.00px;width:47.30px;top:421px;text-align:right;transform-origin:100% 0"><span class="m">-</span>39.834</div>
<div class="t" style="left:558.50px;width:42.30px;top:421px;text-align:right;transform-origin:100% 0"><span class="m">-</span>5%</div>
<div class="t" style="left:107.00px;width:53.50px;top:432px;text-align:left;transform-origin:0 0">Euro I</div>
<div class="t" style="left:158.50px;width:38.30px;top:432px;text-align:right;transform-origin:100% 0">411</div>
<div class="t" style="left:198.00px;width:38.80px;top:432px;text-align:right;transform-origin:100% 0">411</div>
<div class="t" style="left:238.00px;width:44.50px;top:432px;text-align:center;transform-origin:50% 0">0%</div>
<div class="t" style="left:282.50px;width:43.50px;top:432px;text-align:center;transform-origin:50% 0">731,97</div>
<div class="t" style="left:326.70px;width:43.00px;top:432px;text-align:center;transform-origin:50% 0">752,57</div>
<div class="t" style="left:369.00px;width:42.80px;top:432px;text-align:right;transform-origin:100% 0">3%</div>
<div class="t" style="left:413.00px;width:47.30px;top:432px;text-align:right;transform-origin:100% 0">300.604</div>
<div class="t" style="left:461.50px;width:47.30px;top:432px;text-align:right;transform-origin:100% 0">309.062</div>
<div class="t" style="left:510.00px;width:47.30px;top:432px;text-align:right;transform-origin:100% 0">8.459</div>
<div class="t" style="left:558.50px;width:42.30px;top:432px;text-align:right;transform-origin:100% 0">3%</div>
<div class="t" style="left:107.00px;width:53.50px;top:443px;text-align:left;transform-origin:0 0">Euro II</div>
<div class="t" style="left:158.50px;width:38.30px;top:443px;text-align:right;transform-origin:100% 0">3.325</div>
<div class="t" style="left:198.00px;width:38.80px;top:443px;text-align:right;transform-origin:100% 0">3.325</div>
<div class="t" style="left:238.00px;width:44.50px;top:443px;text-align:center;transform-origin:50% 0">0%</div>
<div class="t" style="left:282.50px;width:43.50px;top:443px;text-align:center;transform-origin:50% 0">787,91</div>
<div class="t" style="left:326.70px;width:43.00px;top:443px;text-align:center;transform-origin:50% 0">645,79</div>
<div class="t" style="left:369.00px;width:42.80px;top:443px;text-align:right;transform-origin:100% 0"><span class="m">-</span>18%</div>
<div class="t" style="left:413.00px;width:47.30px;top:443px;text-align:right;transform-origin:100% 0">2.620.067</div>
<div class="t" style="left:461.50px;width:47.30px;top:443px;text-align:right;transform-origin:100% 0">2.147.460</div>
<div class="t" style="left:510.00px;width:47.30px;top:443px;text-align:right;transform-origin:100% 0"><span class="m">-</span>472.606</div>
<div class="t" style="left:558.50px;width:42.30px;top:443px;text-align:right;transform-origin:100% 0"><span class="m">-</span>18%</div>
<div class="t" style="left:107.00px;width:53.50px;top:454px;text-align:left;transform-origin:0 0">Euro III</div>
<div class="t" style="left:158.50px;width:38.30px;top:454px;text-align:right;transform-origin:100% 0">8.678</div>
<div class="t" style="left:198.00px;width:38.80px;top:454px;text-align:right;transform-origin:100% 0">8.678</div>
<div class="t" style="left:238.00px;width:44.50px;top:454px;text-align:center;transform-origin:50% 0">0%</div>
<div class="t" style="left:282.50px;width:43.50px;top:454px;text-align:center;transform-origin:50% 0">631,33</div>
<div class="t" style="left:326.70px;width:43.00px;top:454px;text-align:center;transform-origin:50% 0">459,12</div>
<div class="t" style="left:369.00px;width:42.80px;top:454px;text-align:right;transform-origin:100% 0"><span class="m">-</span>27%</div>
<div class="t" style="left:413.00px;width:47.30px;top:454px;text-align:right;transform-origin:100% 0">5.478.400</div>
<div class="t" style="left:461.50px;width:47.30px;top:454px;text-align:right;transform-origin:100% 0">3.984.005</div>
<div class="t" style="left:510.00px;width:47.30px;top:454px;text-align:right;transform-origin:100% 0"><span class="m">-</span>1.494.395</div>
<div class="t" style="left:558.50px;width:42.30px;top:454px;text-align:right;transform-origin:100% 0"><span class="m">-</span>27%</div>
<div class="t" style="left:107.00px;width:53.50px;top:465px;text-align:left;transform-origin:0 0">Euro IV</div>
<div class="t" style="left:158.50px;width:38.30px;top:465px;text-align:right;transform-origin:100% 0">3.823</div>
<div class="t" style="left:198.00px;width:38.80px;top:465px;text-align:right;transform-origin:100% 0">3.823</div>
<div class="t" style="left:238.00px;width:44.50px;top:465px;text-align:center;transform-origin:50% 0">0%</div>
<div class="t" style="left:282.50px;width:43.50px;top:465px;text-align:center;transform-origin:50% 0">474,07</div>
<div class="t" style="left:326.70px;width:43.00px;top:465px;text-align:center;transform-origin:50% 0">352,49</div>
<div class="t" style="left:369.00px;width:42.80px;top:465px;text-align:right;transform-origin:100% 0"><span class="m">-</span>26%</div>
<div class="t" style="left:413.00px;width:47.30px;top:465px;text-align:right;transform-origin:100% 0">1.812.380</div>
<div class="t" style="left:461.50px;width:47.30px;top:465px;text-align:right;transform-origin:100% 0">1.347.600</div>
<div class="t" style="left:510.00px;width:47.30px;top:465px;text-align:right;transform-origin:100% 0"><span class="m">-</span>464.780</div>
<div class="t" style="left:558.50px;width:42.30px;top:465px;text-align:right;transform-origin:100% 0"><span class="m">-</span>26%</div>
<div class="t" style="left:107.00px;width:53.50px;top:476px;text-align:left;transform-origin:0 0">Euro V</div>
<div class="t" style="left:158.50px;width:38.30px;top:476px;text-align:right;transform-origin:100% 0">21.813</div>
<div class="t" style="left:198.00px;width:38.80px;top:476px;text-align:right;transform-origin:100% 0">21.813</div>
<div class="t" style="left:238.00px;width:44.50px;top:476px;text-align:center;transform-origin:50% 0">0%</div>
<div class="t" style="left:282.50px;width:43.50px;top:476px;text-align:center;transform-origin:50% 0">363,92</div>
<div class="t" style="left:326.70px;width:43.00px;top:476px;text-align:center;transform-origin:50% 0">185,84</div>
<div class="t" style="left:369.00px;width:42.80px;top:476px;text-align:right;transform-origin:100% 0"><span class="m">-</span>49%</div>
<div class="t" style="left:413.00px;width:47.30px;top:476px;text-align:right;transform-origin:100% 0">7.937.976</div>
<div class="t" style="left:461.50px;width:47.30px;top:476px;text-align:right;transform-origin:100% 0">4.053.686</div>
<div class="t" style="left:510.00px;width:47.30px;top:476px;text-align:right;transform-origin:100% 0"><span class="m">-</span>3.884.291</div>
<div class="t" style="left:558.50px;width:42.30px;top:476px;text-align:right;transform-origin:100% 0"><span class="m">-</span>49%</div>
<div class="t" style="left:107.00px;width:53.50px;top:487px;text-align:left;transform-origin:0 0">Euro VI</div>
<div class="t" style="left:158.50px;width:38.30px;top:487px;text-align:right;transform-origin:100% 0">14.596</div>
<div class="t" style="left:198.00px;width:38.80px;top:487px;text-align:right;transform-origin:100% 0">14.596</div>
<div class="t" style="left:238.00px;width:44.50px;top:487px;text-align:center;transform-origin:50% 0">0%</div>
<div class="t" style="left:282.50px;width:43.50px;top:487px;text-align:center;transform-origin:50% 0">58,52</div>
<div class="t" style="left:326.70px;width:43.00px;top:487px;text-align:center;transform-origin:50% 0">185,84</div>
<div class="t" style="left:369.00px;width:42.80px;top:487px;text-align:right;transform-origin:100% 0">218%</div>
<div class="t" style="left:413.00px;width:47.30px;top:487px;text-align:right;transform-origin:100% 0">854.215</div>
<div class="t" style="left:461.50px;width:47.30px;top:487px;text-align:right;transform-origin:100% 0">2.712.590</div>
<div class="t" style="left:510.00px;width:47.30px;top:487px;text-align:right;transform-origin:100% 0">1.858.375</div>
<div class="t" style="left:558.50px;width:42.30px;top:487px;text-align:right;transform-origin:100% 0">218%</div>
<div class="t b" style="left:107.00px;width:53.50px;top:498px;text-align:left;transform-origin:0 0;letter-spacing:0.1px">Buses Total</div>
<div class="t b" style="left:158.50px;width:38.30px;top:498px;text-align:right;transform-origin:100% 0">53.382</div>
<div class="t b" style="left:198.00px;width:38.80px;top:498px;text-align:right;transform-origin:100% 0">53.382</div>
<div class="t b" style="left:238.00px;width:44.50px;top:498px;text-align:center;transform-origin:50% 0">0%</div>
<div class="t b" style="left:282.50px;width:43.50px;top:498px;text-align:center;transform-origin:50% 0">370,80</div>
<div class="t b" style="left:326.70px;width:43.00px;top:498px;text-align:center;transform-origin:50% 0">286,71</div>
<div class="t b" style="left:369.00px;width:42.80px;top:498px;text-align:right;transform-origin:100% 0"><span class="m">-</span>23%</div>
<div class="t b" style="left:413.00px;width:47.30px;top:498px;text-align:right;transform-origin:100% 0">19.793.901</div>
<div class="t b" style="left:461.50px;width:47.30px;top:498px;text-align:right;transform-origin:100% 0">15.304.828</div>
<div class="t b" style="left:510.00px;width:47.30px;top:498px;text-align:right;transform-origin:100% 0"><span class="m">-</span>4.489.073</div>
<div class="t b" style="left:558.50px;width:42.30px;top:498px;text-align:right;transform-origin:100% 0"><span class="m">-</span>23%</div>
<div class="t" style="left:107.00px;width:53.50px;top:509px;text-align:left;transform-origin:0 0">pre-Euro</div>
<div class="t" style="left:158.50px;width:38.30px;top:509px;text-align:right;transform-origin:100% 0">3.606</div>
<div class="t" style="left:198.00px;width:38.80px;top:509px;text-align:right;transform-origin:100% 0">3.606</div>
<div class="t" style="left:238.00px;width:44.50px;top:509px;text-align:center;transform-origin:50% 0">0%</div>
<div class="t" style="left:282.50px;width:43.50px;top:509px;text-align:center;transform-origin:50% 0">1034,40</div>
<div class="t" style="left:326.70px;width:43.00px;top:509px;text-align:center;transform-origin:50% 0">737,35</div>
<div class="t" style="left:369.00px;width:42.80px;top:509px;text-align:right;transform-origin:100% 0"><span class="m">-</span>29%</div>
<div class="t" style="left:413.00px;width:47.30px;top:509px;text-align:right;transform-origin:100% 0">3.730.272</div>
<div class="t" style="left:461.50px;width:47.30px;top:509px;text-align:right;transform-origin:100% 0">2.659.016</div>
<div class="t" style="left:510.00px;width:47.30px;top:509px;text-align:right;transform-origin:100% 0"><span class="m">-</span>1.071.256</div>
<div class="t" style="left:558.50px;width:42.30px;top:509px;text-align:right;transform-origin:100% 0"><span class="m">-</span>29%</div>
<div class="t" style="left:107.00px;width:53.50px;top:520px;text-align:left;transform-origin:0 0">Euro I</div>
<div class="t" style="left:158.50px;width:38.30px;top:520px;text-align:right;transform-origin:100% 0">1.311</div>
<div class="t" style="left:198.00px;width:38.80px;top:520px;text-align:right;transform-origin:100% 0">1.311</div>
<div class="t" style="left:238.00px;width:44.50px;top:520px;text-align:center;transform-origin:50% 0">0%</div>
<div class="t" style="left:282.50px;width:43.50px;top:520px;text-align:center;transform-origin:50% 0">748,03</div>
<div class="t" style="left:326.70px;width:43.00px;top:520px;text-align:center;transform-origin:50% 0">468,38</div>
<div class="t" style="left:369.00px;width:42.80px;top:520px;text-align:right;transform-origin:100% 0"><span class="m">-</span>37%</div>
<div class="t" style="left:413.00px;width:47.30px;top:520px;text-align:right;transform-origin:100% 0">980.842</div>
<div class="t" style="left:461.50px;width:47.30px;top:520px;text-align:right;transform-origin:100% 0">614.151</div>
<div class="t" style="left:510.00px;width:47.30px;top:520px;text-align:right;transform-origin:100% 0"><span class="m">-</span>366.690</div>
<div class="t" style="left:558.50px;width:42.30px;top:520px;text-align:right;transform-origin:100% 0"><span class="m">-</span>37%</div>
<div class="t" style="left:107.00px;width:53.50px;top:531px;text-align:left;transform-origin:0 0">Euro II</div>
<div class="t" style="left:158.50px;width:38.30px;top:531px;text-align:right;transform-origin:100% 0">7.087</div>
<div class="t" style="left:198.00px;width:38.80px;top:531px;text-align:right;transform-origin:100% 0">7.087</div>
<div class="t" style="left:238.00px;width:44.50px;top:531px;text-align:center;transform-origin:50% 0">0%</div>
<div class="t" style="left:282.50px;width:43.50px;top:531px;text-align:center;transform-origin:50% 0">817,66</div>
<div class="t" style="left:326.70px;width:43.00px;top:531px;text-align:center;transform-origin:50% 0">503,45</div>
<div class="t" style="left:369.00px;width:42.80px;top:531px;text-align:right;transform-origin:100% 0"><span class="m">-</span>38%</div>
<div class="t" style="left:413.00px;width:47.30px;top:531px;text-align:right;transform-origin:100% 0">5.794.876</div>
<div class="t" style="left:461.50px;width:47.30px;top:531px;text-align:right;transform-origin:100% 0">3.568.026</div>
<div class="t" style="left:510.00px;width:47.30px;top:531px;text-align:right;transform-origin:100% 0"><span class="m">-</span>2.226.851</div>
<div class="t" style="left:558.50px;width:42.30px;top:531px;text-align:right;transform-origin:100% 0"><span class="m">-</span>38%</div>
<div class="t" style="left:107.00px;width:53.50px;top:541px;text-align:left;transform-origin:0 0">Euro III</div>
<div class="t" style="left:158.50px;width:38.30px;top:541px;text-align:right;transform-origin:100% 0">26.886</div>
<div class="t" style="left:198.00px;width:38.80px;top:541px;text-align:right;transform-origin:100% 0">26.886</div>
<div class="t" style="left:238.00px;width:44.50px;top:541px;text-align:center;transform-origin:50% 0">0%</div>
<div class="t" style="left:282.50px;width:43.50px;top:541px;text-align:center;transform-origin:50% 0">630,17</div>
<div class="t" style="left:326.70px;width:43.00px;top:541px;text-align:center;transform-origin:50% 0">355,72</div>
<div class="t" style="left:369.00px;width:42.80px;top:541px;text-align:right;transform-origin:100% 0"><span class="m">-</span>44%</div>
<div class="t" style="left:413.00px;width:47.30px;top:541px;text-align:right;transform-origin:100% 0">16.942.661</div>
<div class="t" style="left:461.50px;width:47.30px;top:541px;text-align:right;transform-origin:100% 0">9.563.841</div>
<div class="t" style="left:510.00px;width:47.30px;top:541px;text-align:right;transform-origin:100% 0"><span class="m">-</span>7.378.821</div>
<div class="t" style="left:558.50px;width:42.30px;top:541px;text-align:right;transform-origin:100% 0"><span class="m">-</span>44%</div>
<div class="t" style="left:107.00px;width:53.50px;top:552px;text-align:left;transform-origin:0 0">Euro IV</div>
<div class="t" style="left:158.50px;width:38.30px;top:552px;text-align:right;transform-origin:100% 0">20.002</div>
<div class="t" style="left:198.00px;width:38.80px;top:552px;text-align:right;transform-origin:100% 0">20.002</div>
<div class="t" style="left:238.00px;width:44.50px;top:552px;text-align:center;transform-origin:50% 0">0%</div>
<div class="t" style="left:282.50px;width:43.50px;top:552px;text-align:center;transform-origin:50% 0">397,77</div>
<div class="t" style="left:326.70px;width:43.00px;top:552px;text-align:center;transform-origin:50% 0">279,34</div>
<div class="t" style="left:369.00px;width:42.80px;top:552px;text-align:right;transform-origin:100% 0"><span class="m">-</span>30%</div>
<div class="t" style="left:413.00px;width:47.30px;top:552px;text-align:right;transform-origin:100% 0">7.956.414</div>
<div class="t" style="left:461.50px;width:47.30px;top:552px;text-align:right;transform-origin:100% 0">5.587.466</div>
<div class="t" style="left:510.00px;width:47.30px;top:552px;text-align:right;transform-origin:100% 0"><span class="m">-</span>2.368.948</div>
<div class="t" style="left:558.50px;width:42.30px;top:552px;text-align:right;transform-origin:100% 0"><span class="m">-</span>30%</div>
<div class="t" style="left:107.00px;width:53.50px;top:563px;text-align:left;transform-origin:0 0">Euro V</div>
<div class="t" style="left:158.50px;width:38.30px;top:563px;text-align:right;transform-origin:100% 0">204.305</div>
<div class="t" style="left:198.00px;width:38.80px;top:563px;text-align:right;transform-origin:100% 0">204.305</div>
<div class="t" style="left:238.00px;width:44.50px;top:563px;text-align:center;transform-origin:50% 0">0%</div>
<div class="t" style="left:282.50px;width:43.50px;top:563px;text-align:center;transform-origin:50% 0">290,16</div>
<div class="t" style="left:326.70px;width:43.00px;top:563px;text-align:center;transform-origin:50% 0">154,35</div>
<div class="t" style="left:369.00px;width:42.80px;top:563px;text-align:right;transform-origin:100% 0"><span class="m">-</span>47%</div>
<div class="t" style="left:413.00px;width:47.30px;top:563px;text-align:right;transform-origin:100% 0">59.280.709</div>
<div class="t" style="left:461.50px;width:47.30px;top:563px;text-align:right;transform-origin:100% 0">31.535.367</div>
<div class="t" style="left:510.00px;width:47.30px;top:563px;text-align:right;transform-origin:100% 0"><span class="m">-</span>27.745.342</div>
<div class="t" style="left:558.50px;width:42.30px;top:563px;text-align:right;transform-origin:100% 0"><span class="m">-</span>47%</div>
<div class="t" style="left:107.00px;width:53.50px;top:574px;text-align:left;transform-origin:0 0">Euro VI</div>
<div class="t" style="left:158.50px;width:38.30px;top:574px;text-align:right;transform-origin:100% 0">335.065</div>
<div class="t" style="left:198.00px;width:38.80px;top:574px;text-align:right;transform-origin:100% 0">335.065</div>
<div class="t" style="left:238.00px;width:44.50px;top:574px;text-align:center;transform-origin:50% 0">0%</div>
<div class="t" style="left:282.50px;width:43.50px;top:574px;text-align:center;transform-origin:50% 0">65,62</div>
<div class="t" style="left:326.70px;width:43.00px;top:574px;text-align:center;transform-origin:50% 0">154,35</div>
<div class="t" style="left:369.00px;width:42.80px;top:574px;text-align:right;transform-origin:100% 0">135%</div>
<div class="t" style="left:413.00px;width:47.30px;top:574px;text-align:right;transform-origin:100% 0">21.985.366</div>
<div class="t" style="left:461.50px;width:47.30px;top:574px;text-align:right;transform-origin:100% 0">51.718.641</div>
<div class="t" style="left:510.00px;width:47.30px;top:574px;text-align:right;transform-origin:100% 0">29.733.275</div>
<div class="t" style="left:558.50px;width:42.30px;top:574px;text-align:right;transform-origin:100% 0">135%</div>
<div class="t b" style="left:107.00px;width:53.50px;top:585px;text-align:left;transform-origin:0 0;letter-spacing:0.1px">Trucks Total</div>
<div class="t b" style="left:158.50px;width:38.30px;top:585px;text-align:right;transform-origin:100% 0">598.263</div>
<div class="t b" style="left:198.00px;width:38.80px;top:585px;text-align:right;transform-origin:100% 0">598.263</div>
<div class="t b" style="left:238.00px;width:44.50px;top:585px;text-align:center;transform-origin:50% 0">0%</div>
<div class="t b" style="left:282.50px;width:43.50px;top:585px;text-align:center;transform-origin:50% 0">195,02</div>
<div class="t b" style="left:326.70px;width:43.00px;top:585px;text-align:center;transform-origin:50% 0">175,92</div>
<div class="t b" style="left:369.00px;width:42.80px;top:585px;text-align:right;transform-origin:100% 0"><span class="m">-</span>10%</div>
<div class="t b" style="left:413.00px;width:47.30px;top:585px;text-align:right;transform-origin:100% 0">116.671.141</div>
<div class="t b" style="left:461.50px;width:47.30px;top:585px;text-align:right;transform-origin:100% 0">105.246.508</div>
<div class="t b" style="left:510.00px;width:47.30px;top:585px;text-align:right;transform-origin:100% 0"><span class="m">-</span>11.424.633</div>
<div class="t b" style="left:558.50px;width:42.30px;top:585px;text-align:right;transform-origin:100% 0"><span class="m">-</span>10%</div>
<div class="t" style="left:107.00px;width:53.50px;top:596px;text-align:left;transform-origin:0 0">pre-Euro</div>
<div class="t" style="left:158.50px;width:38.30px;top:596px;text-align:right;transform-origin:100% 0">5.336</div>
<div class="t" style="left:198.00px;width:38.80px;top:596px;text-align:right;transform-origin:100% 0">5.336</div>
<div class="t" style="left:238.00px;width:44.50px;top:596px;text-align:center;transform-origin:50% 0">0%</div>
<div class="t" style="left:282.50px;width:43.50px;top:596px;text-align:center;transform-origin:50% 0">125,91</div>
<div class="t" style="left:326.70px;width:43.00px;top:596px;text-align:center;transform-origin:50% 0">157,19</div>
<div class="t" style="left:369.00px;width:42.80px;top:596px;text-align:right;transform-origin:100% 0">25%</div>
<div class="t" style="left:413.00px;width:47.30px;top:596px;text-align:right;transform-origin:100% 0">671.888</div>
<div class="t" style="left:461.50px;width:47.30px;top:596px;text-align:right;transform-origin:100% 0">838.769</div>
<div class="t" style="left:510.00px;width:47.30px;top:596px;text-align:right;transform-origin:100% 0">166.881</div>
<div class="t" style="left:558.50px;width:42.30px;top:596px;text-align:right;transform-origin:100% 0">25%</div>
<div class="t" style="left:107.00px;width:53.50px;top:607px;text-align:left;transform-origin:0 0">Euro 1</div>
<div class="t" style="left:158.50px;width:38.30px;top:607px;text-align:right;transform-origin:100% 0">3.257</div>
<div class="t" style="left:198.00px;width:38.80px;top:607px;text-align:right;transform-origin:100% 0">3.257</div>
<div class="t" style="left:238.00px;width:44.50px;top:607px;text-align:center;transform-origin:50% 0">0%</div>
<div class="t" style="left:282.50px;width:43.50px;top:607px;text-align:center;transform-origin:50% 0">126,39</div>
<div class="t" style="left:326.70px;width:43.00px;top:607px;text-align:center;transform-origin:50% 0">177,86</div>
<div class="t" style="left:369.00px;width:42.80px;top:607px;text-align:right;transform-origin:100% 0">41%</div>
<div class="t" style="left:413.00px;width:47.30px;top:607px;text-align:right;transform-origin:100% 0">411.617</div>
<div class="t" style="left:461.50px;width:47.30px;top:607px;text-align:right;transform-origin:100% 0">579.244</div>
<div class="t" style="left:510.00px;width:47.30px;top:607px;text-align:right;transform-origin:100% 0">167.627</div>
<div class="t" style="left:558.50px;width:42.30px;top:607px;text-align:right;transform-origin:100% 0">41%</div>
<div class="t" style="left:107.00px;width:53.50px;top:618px;text-align:left;transform-origin:0 0">Euro 2</div>
<div class="t" style="left:158.50px;width:38.30px;top:618px;text-align:right;transform-origin:100% 0">3.396</div>
<div class="t" style="left:198.00px;width:38.80px;top:618px;text-align:right;transform-origin:100% 0">3.396</div>
<div class="t" style="left:238.00px;width:44.50px;top:618px;text-align:center;transform-origin:50% 0">0%</div>
<div class="t" style="left:282.50px;width:43.50px;top:618px;text-align:center;transform-origin:50% 0">122,55</div>
<div class="t" style="left:326.70px;width:43.00px;top:618px;text-align:center;transform-origin:50% 0">198,33</div>
<div class="t" style="left:369.00px;width:42.80px;top:618px;text-align:right;transform-origin:100% 0">62%</div>
<div class="t" style="left:413.00px;width:47.30px;top:618px;text-align:right;transform-origin:100% 0">416.200</div>
<div class="t" style="left:461.50px;width:47.30px;top:618px;text-align:right;transform-origin:100% 0">673.548</div>
<div class="t" style="left:510.00px;width:47.30px;top:618px;text-align:right;transform-origin:100% 0">257.348</div>
<div class="t" style="left:558.50px;width:42.30px;top:618px;text-align:right;transform-origin:100% 0">62%</div>
<div class="t" style="left:107.00px;width:53.50px;top:629px;text-align:left;transform-origin:0 0">Euro 3</div>
<div class="t" style="left:158.50px;width:38.30px;top:629px;text-align:right;transform-origin:100% 0">6.741</div>
<div class="t" style="left:198.00px;width:38.80px;top:629px;text-align:right;transform-origin:100% 0">6.741</div>
<div class="t" style="left:238.00px;width:44.50px;top:629px;text-align:center;transform-origin:50% 0">0%</div>
<div class="t" style="left:282.50px;width:43.50px;top:629px;text-align:center;transform-origin:50% 0">40,22</div>
<div class="t" style="left:326.70px;width:43.00px;top:629px;text-align:center;transform-origin:50% 0">198,33</div>
<div class="t" style="left:369.00px;width:42.80px;top:629px;text-align:right;transform-origin:100% 0">393%</div>
<div class="t" style="left:413.00px;width:47.30px;top:629px;text-align:right;transform-origin:100% 0">271.107</div>
<div class="t" style="left:461.50px;width:47.30px;top:629px;text-align:right;transform-origin:100% 0">1.336.956</div>
<div class="t" style="left:510.00px;width:47.30px;top:629px;text-align:right;transform-origin:100% 0">1.065.849</div>
<div class="t" style="left:558.50px;width:42.30px;top:629px;text-align:right;transform-origin:100% 0">393%</div>
<div class="t" style="left:107.00px;width:53.50px;top:640px;text-align:left;transform-origin:0 0">Euro 4</div>
<div class="t" style="left:158.50px;width:38.30px;top:640px;text-align:right;transform-origin:100% 0">430</div>
<div class="t" style="left:198.00px;width:38.80px;top:640px;text-align:right;transform-origin:100% 0">430</div>
<div class="t" style="left:238.00px;width:44.50px;top:640px;text-align:center;transform-origin:50% 0">0%</div>
<div class="t" style="left:282.50px;width:43.50px;top:640px;text-align:center;transform-origin:50% 0">18,29</div>
<div class="t" style="left:326.70px;width:43.00px;top:640px;text-align:center;transform-origin:50% 0">198,33</div>
<div class="t" style="left:369.00px;width:42.80px;top:640px;text-align:right;transform-origin:100% 0">985%</div>
<div class="t" style="left:413.00px;width:47.30px;top:640px;text-align:right;transform-origin:100% 0">7.862</div>
<div class="t" style="left:461.50px;width:47.30px;top:640px;text-align:right;transform-origin:100% 0">85.270</div>
<div class="t" style="left:510.00px;width:47.30px;top:640px;text-align:right;transform-origin:100% 0">77.408</div>
<div class="t" style="left:558.50px;width:42.30px;top:640px;text-align:right;transform-origin:100% 0">985%</div>
<div class="t" style="left:107.00px;width:53.50px;top:651px;text-align:left;transform-origin:0 0">Euro 5</div>
<div class="t" style="left:158.50px;width:38.30px;top:651px;text-align:right;transform-origin:100% 0">0</div>
<div class="t" style="left:198.00px;width:38.80px;top:651px;text-align:right;transform-origin:100% 0">0</div>
<div class="t" style="left:238.00px;width:44.50px;top:651px;text-align:center;transform-origin:50% 0">0%</div>
<div class="t" style="left:282.50px;width:43.50px;top:651px;text-align:center;transform-origin:50% 0">0,00</div>
<div class="t" style="left:369.00px;width:42.80px;top:651px;text-align:right;transform-origin:100% 0">0%</div>
<div class="t" style="left:414.20px;width:48.50px;top:651px;text-align:left;transform-origin:0 0">0</div>
<div class="t" style="left:461.50px;width:47.30px;top:651px;text-align:right;transform-origin:100% 0">0</div>
<div class="t" style="left:510.00px;width:47.30px;top:651px;text-align:right;transform-origin:100% 0">0</div>
<div class="t" style="left:558.50px;width:42.30px;top:651px;text-align:right;transform-origin:100% 0">0%</div>
<div class="t b" style="left:107.00px;width:53.50px;top:662px;text-align:left;transform-origin:0 0;letter-spacing:0.1px">M2Ws Total</div>
<div class="t b" style="left:158.50px;width:38.30px;top:662px;text-align:right;transform-origin:100% 0">19.160</div>
<div class="t b" style="left:198.00px;width:38.80px;top:662px;text-align:right;transform-origin:100% 0">19.160</div>
<div class="t b" style="left:238.00px;width:44.50px;top:662px;text-align:center;transform-origin:50% 0">0%</div>
<div class="t b" style="left:282.50px;width:43.50px;top:662px;text-align:center;transform-origin:50% 0">92,83</div>
<div class="t b" style="left:326.70px;width:43.00px;top:662px;text-align:center;transform-origin:50% 0">183,39</div>
<div class="t b" style="left:369.00px;width:42.80px;top:662px;text-align:right;transform-origin:100% 0">98%</div>
<div class="t b" style="left:413.00px;width:47.30px;top:662px;text-align:right;transform-origin:100% 0">1.778.674</div>
<div class="t b" style="left:461.50px;width:47.30px;top:662px;text-align:right;transform-origin:100% 0">3.513.787</div>
<div class="t b" style="left:510.00px;width:47.30px;top:662px;text-align:right;transform-origin:100% 0">1.735.114</div>
<div class="t b" style="left:558.50px;width:42.30px;top:662px;text-align:right;transform-origin:100% 0">98%</div>
<div class="t b" style="left:107.00px;width:53.50px;top:676px;text-align:left;transform-origin:0 0;letter-spacing:0.1px">Total</div>
<div class="t b" style="left:158.50px;width:38.30px;top:676px;text-align:right;transform-origin:100% 0">2.251.437</div>
<div class="t b" style="left:198.00px;width:38.80px;top:676px;text-align:right;transform-origin:100% 0">2.251.437</div>
<div class="t b" style="left:238.00px;width:44.50px;top:676px;text-align:center;transform-origin:50% 0">0%</div>
<div class="t b" style="left:282.50px;width:43.50px;top:676px;text-align:center;transform-origin:50% 0">233,43</div>
<div class="t b" style="left:326.70px;width:43.00px;top:676px;text-align:center;transform-origin:50% 0">135,23</div>
<div class="t b" style="left:369.00px;width:42.80px;top:676px;text-align:right;transform-origin:100% 0"><span class="m">-</span>42%</div>
<div class="t b" style="left:413.00px;width:47.30px;top:676px;text-align:right;transform-origin:100% 0">525.549.410</div>
<div class="t b" style="left:461.50px;width:47.30px;top:676px;text-align:right;transform-origin:100% 0">304.469.986</div>
<div class="t b" style="left:510.00px;width:47.30px;top:676px;text-align:right;transform-origin:100% 0"><span class="m">-</span>221.079.424</div>
<div class="t b" style="left:558.50px;width:42.30px;top:676px;text-align:right;transform-origin:100% 0"><span class="m">-</span>42%</div>
<div class="t b" style="left:9.00px;width:96.00px;top:676px;text-align:center;transform-origin:50% 0;letter-spacing:0.08px">1.A.3.b <span class="m">-</span> Road Transport</div>
<div class="t" style="left:62.00px;width:43.00px;top:88px;text-align:center;transform-origin:50% 0">Gasoline</div>
<div class="t" style="left:62.00px;width:43.00px;top:175px;text-align:center;transform-origin:50% 0">Diesel Oil</div>
<div class="t" style="left:62.00px;width:43.00px;top:274px;text-align:center;transform-origin:50% 0">Gasoline</div>
<div class="t" style="left:62.00px;width:43.00px;top:361px;text-align:center;transform-origin:50% 0">Diesel Oil</div>
<div class="t" style="left:62.00px;width:43.00px;top:459px;text-align:center;transform-origin:50% 0">Diesel Oil</div>
<div class="t" style="left:62.00px;width:43.00px;top:547px;text-align:center;transform-origin:50% 0">Diesel Oil</div>
<div class="t" style="left:62.00px;width:43.00px;top:629px;text-align:center;transform-origin:50% 0">Gasoline</div>
<div class="t b" style="left:9.00px;width:53.00px;top:128px;text-align:center;transform-origin:50% 0">1.A.3.b i <span class="m">-</span></div>
<div class="t b" style="left:9.00px;width:53.00px;top:137px;text-align:center;transform-origin:50% 0">Passenger</div>
<div class="t b" style="left:9.00px;width:53.00px;top:146px;text-align:center;transform-origin:50% 0">Cars</div>
<div class="t b" style="left:9.00px;width:53.00px;top:309px;text-align:center;transform-origin:50% 0">1.A.3.b ii&nbsp; <span class="m">-</span></div>
<div class="t b" style="left:9.00px;width:53.00px;top:318px;text-align:center;transform-origin:50% 0">Light Duty</div>
<div class="t b" style="left:9.00px;width:53.00px;top:327px;text-align:center;transform-origin:50% 0">Vehicles</div>
<div class="t b" style="left:9.00px;width:53.00px;top:337px;text-align:center;transform-origin:50% 0">(LDVs)</div>
<div class="t b" style="left:9.00px;width:53.00px;top:445px;text-align:center;transform-origin:50% 0">1.A.3.b iii <span class="m">-</span></div>
<div class="t b" style="left:9.00px;width:53.00px;top:455px;text-align:center;transform-origin:50% 0">Heavy Duty</div>
<div class="t b" style="left:9.00px;width:53.00px;top:464px;text-align:center;transform-origin:50% 0">Vehicle:</div>
<div class="t b" style="left:9.00px;width:53.00px;top:473px;text-align:center;transform-origin:50% 0">Buses</div>
<div class="t b" style="left:9.00px;width:53.00px;top:528px;text-align:center;transform-origin:50% 0">1.A.3.b iii <span class="m">-</span></div>
<div class="t b" style="left:9.00px;width:53.00px;top:537px;text-align:center;transform-origin:50% 0">Heavy Duty</div>
<div class="t b" style="left:9.00px;width:53.00px;top:547px;text-align:center;transform-origin:50% 0">Vehicle:</div>
<div class="t b" style="left:9.00px;width:53.00px;top:556px;text-align:center;transform-origin:50% 0">Trucks &amp;</div>
<div class="t b" style="left:9.00px;width:53.00px;top:565px;text-align:center;transform-origin:50% 0">Lorries</div>
<div class="t b" style="left:9.00px;width:53.00px;top:610px;text-align:center;transform-origin:50% 0">1.A.3.b iv <span class="m">-</span></div>
<div class="t b" style="left:9.00px;width:53.00px;top:619px;text-align:center;transform-origin:50% 0">Motorised</div>
<div class="t b" style="left:9.00px;width:53.00px;top:628px;text-align:center;transform-origin:50% 0">Two<span class="m">-</span></div>
<div class="t b" style="left:9.00px;width:53.00px;top:638px;text-align:center;transform-origin:50% 0">Wheelers</div>
<div class="t b" style="left:9.00px;width:53.00px;top:647px;text-align:center;transform-origin:50% 0">(M2Ws)</div>
<div class="t b" style="left:9.00px;width:53.00px;top:28px;text-align:center;transform-origin:50% 0">NFR Code</div>
<div class="t b" style="left:62.00px;width:43.00px;top:28px;text-align:center;transform-origin:50% 0">Fuel</div>
<div class="t b" style="left:158.50px;width:124.00px;top:17px;text-align:center;transform-origin:50% 0">Activity Data</div>
<div class="t b" style="left:158.50px;width:39.50px;top:28px;text-align:center;transform-origin:50% 0">current</div>
<div class="t b" style="left:198.00px;width:40.00px;top:28px;text-align:center;transform-origin:50% 0">adjusted</div>
<div class="t b" style="left:238.00px;width:44.50px;top:28px;text-align:center;transform-origin:50% 0">difference</div>
<div class="t b" style="left:158.50px;width:79.50px;top:39px;text-align:center;transform-origin:50% 0">in [TJ]</div>
<div class="t b" style="left:238.00px;width:44.50px;top:39px;text-align:center;transform-origin:50% 0">in [%]</div>
<div class="t b" style="left:282.50px;width:130.50px;top:17px;text-align:center;transform-origin:50% 0">Implied Emission Factor</div>
<div class="t b" style="left:282.50px;width:43.50px;top:28px;text-align:center;transform-origin:50% 0">current</div>
<div class="t b" style="left:326.00px;width:43.00px;top:28px;text-align:center;transform-origin:50% 0">adjusted</div>
<div class="t b" style="left:369.00px;width:44.00px;top:28px;text-align:center;transform-origin:50% 0">difference</div>
<div class="t b" style="left:282.50px;width:86.50px;top:39px;text-align:center;transform-origin:50% 0">in [kg/TJ]</div>
<div class="t b" style="left:369.00px;width:44.00px;top:39px;text-align:center;transform-origin:50% 0">in [%]</div>
<div class="t b" style="left:413.00px;width:190.00px;top:17px;text-align:center;transform-origin:50% 0">NO<sub>x</sub> Emissions</div>
<div class="t b" style="left:413.00px;width:48.50px;top:28px;text-align:center;transform-origin:50% 0">current</div>
<div class="t b" style="left:461.50px;width:48.50px;top:28px;text-align:center;transform-origin:50% 0">adjusted</div>
<div class="t b" style="left:510.00px;width:48.50px;top:28px;text-align:center;transform-origin:50% 0">adjustment</div>
<div class="t b" style="left:558.50px;width:44.50px;top:28px;text-align:center;transform-origin:50% 0">difference</div>
<div class="t b" style="left:461.50px;width:48.50px;top:39px;text-align:center;transform-origin:50% 0">in [kg]</div>
<div class="t b" style="left:558.50px;width:44.50px;top:39px;text-align:center;transform-origin:50% 0">in [%]</div>
<svg class="ov" width="612" height="700" viewBox="0 0 612 700"><rect x="105.00" y="124.66" width="498.00" height="1" fill="rgba(0,0,0,0.55)"/><rect x="105.00" y="135.59" width="498.00" height="1" fill="rgba(0,0,0,0.55)"/><rect x="105.00" y="212.03" width="498.00" height="1" fill="rgba(0,0,0,0.55)"/><rect x="105.00" y="222.95" width="498.00" height="1" fill="rgba(0,0,0,0.55)"/><rect x="105.00" y="310.32" width="498.00" height="1" fill="rgba(0,0,0,0.55)"/><rect x="105.00" y="321.24" width="498.00" height="1" fill="rgba(0,0,0,0.55)"/><rect x="105.00" y="397.68" width="498.00" height="1" fill="rgba(0,0,0,0.55)"/><rect x="105.00" y="408.60" width="498.00" height="1" fill="rgba(0,0,0,0.55)"/><rect x="105.00" y="495.97" width="498.00" height="1" fill="rgba(0,0,0,0.55)"/><rect x="105.00" y="583.33" width="498.00" height="1" fill="rgba(0,0,0,0.55)"/><rect x="105.00" y="659.78" width="498.00" height="1" fill="rgba(0,0,0,0.55)"/><rect x="9.00" y="233.87" width="594.00" height="1" fill="rgba(0,0,0,0.55)"/><rect x="9.00" y="419.52" width="594.00" height="1" fill="rgba(0,0,0,0.55)"/><rect x="9.00" y="506.89" width="594.00" height="1" fill="rgba(0,0,0,0.55)"/><rect x="9.00" y="594.25" width="594.00" height="1" fill="rgba(0,0,0,0.55)"/><rect x="9.00" y="670.70" width="594.00" height="1" fill="rgba(0,0,0,0.55)"/><rect x="9.00" y="688.90" width="594.00" height="1" fill="rgba(0,0,0,0.55)"/><rect x="158.00" y="16.00" width="1" height="673.40" fill="rgba(0,0,0,0.62)"/><rect x="282.00" y="16.00" width="1" height="673.40" fill="rgba(0,0,0,0.62)"/><rect x="413.00" y="16.00" width="1" height="673.40" fill="rgba(0,0,0,0.62)"/></svg>
</body></html>
